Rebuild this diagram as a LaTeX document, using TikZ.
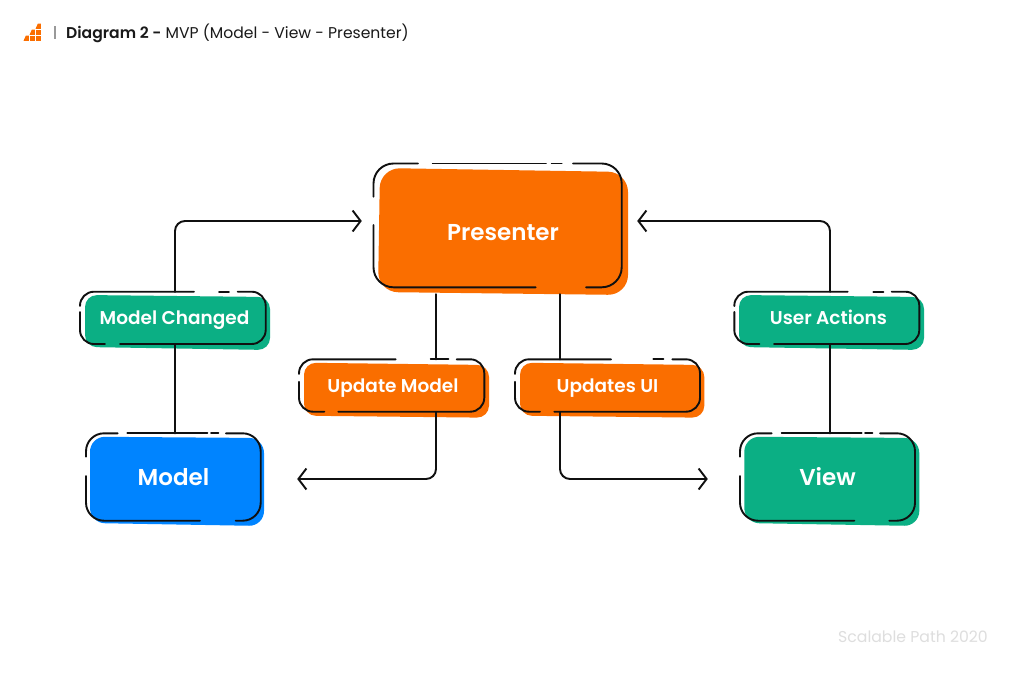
\documentclass[tikz,border=0pt]{standalone}
\usepackage{fontspec}
\usetikzlibrary{arrows.meta}
\setmainfont{Poppins}
\newfontfamily\semibold{Poppins}[UprightFont=* SemiBold]
\definecolor{brandorange}{HTML}{FA6E00}
\definecolor{brandgreen}{HTML}{0BAF84}
\definecolor{brandblue}{HTML}{0084FF}
\definecolor{inkline}{HTML}{101010}
\tikzset{
  sketch/.style={draw=inkline,line width=1.9pt,line cap=round,rounded corners=#1},
  sketch/.default=14pt,
  wire/.style={draw=inkline,line width=1.9pt,line cap=round,rounded corners=10pt},
  arrowwire/.style={wire,-{Straight Barb[length=8pt,width=21pt,line width=1.9pt]}},
  bigtext/.style={text=white,font=\semibold\fontsize{23}{26}\selectfont,inner sep=0pt,text height=16pt,text depth=0pt},
  smalltext/.style={text=white,font=\semibold\fontsize{18.5}{21}\selectfont,inner sep=0pt,text height=13pt,text depth=0pt},
  logoblock/.style={fill=brandorange}
}
\begin{document}
\begin{tikzpicture}[x=1pt,y=-1pt]
\useasboundingbox (0,0) rectangle (1024,686);
\fill[white] (0,0) rectangle (1024,686);

% header: stepped logo, separator, title and credit
\foreach \x/\y in {29.5/35.5,35.5/35.5,35.5/29.5}
  \fill[logoblock] (\x,\y) rectangle ++(5.4,5.4);
\foreach \x/\y in {23.5/35.5,29.5/29.5,35.5/23.5}
  \fill[logoblock] (\x,\y+5.4) -- (\x+5.4,\y+5.4) -- (\x+5.4,\y) -- (\x+2.4,\y) -- cycle;
\draw[gray!80,line width=1.1pt] (55,26) -- (55,39);
\node[anchor=base west,inner sep=0pt,font=\fontsize{15.6}{20}\selectfont,text=black!90] (title) at (66,38.5)
  {{\semibold Diagram 2 -} MVP (Model - View - Presenter)};
\node[anchor=base east,inner sep=0pt,font=\fontsize{15.7}{18}\selectfont,text=black!13] (credit) at (988,642) {Scalable Path 2020};

% colour patches behind the outlines
\fill[brandorange,rounded corners=20pt] (380,168) -- (628,172) -- (628,295) -- (378,292) -- cycle;
\fill[brandgreen,rounded corners=12pt] (85,295) -- (270,297) -- (270,350) -- (85,347) -- cycle;
\fill[brandblue,rounded corners=15pt] (90,436.7) -- (264,438) -- (264,526) -- (90,523) -- cycle;
\fill[brandorange,rounded corners=12pt] (304,362.7) -- (489,365) -- (489,417.7) -- (304,415.7) -- cycle;
\fill[brandorange,rounded corners=12pt] (520,362.7) -- (704.3,365) -- (704.3,417.7) -- (520,415.7) -- cycle;
\fill[brandgreen,rounded corners=12pt] (739,295) -- (924,297) -- (924,350) -- (739,347) -- cycle;
\fill[brandgreen,rounded corners=15pt] (744.3,436.7) -- (919.3,438) -- (919.3,526) -- (744.3,523) -- cycle;

% labels
\node[bigtext,minimum width=242pt,minimum height=124pt] (presenter) at (503,232) {Presenter};
\node[smalltext,minimum width=184pt,minimum height=52pt] (changed) at (174.5,318) {Model Changed};
\node[bigtext,minimum width=174pt,minimum height=87pt] (model) at (173.5,477) {Model};
\node[smalltext,minimum width=185pt,minimum height=52pt] (updmodel) at (393,385.5) {Update Model};
\node[smalltext,minimum width=185pt,minimum height=52pt] (updui) at (607.5,385.5) {Updates UI};
\node[smalltext,minimum width=185pt,minimum height=52pt] (actions) at (828.5,318) {User Actions};
\node[bigtext,minimum width=175pt,minimum height=87pt] (view) at (827.5,477) {View};

% connectors
\draw[wire] ([xshift=1.5pt]model.north) -- ([xshift=0.5pt]changed.south);
\draw[arrowwire] ([xshift=0.5pt]changed.north) |- ([xshift=-20pt,yshift=11pt]presenter.west);
\draw[wire] ([xshift=-67pt]presenter.south) -- ([xshift=43pt]updmodel.north);
\draw[arrowwire] ([xshift=43pt]updmodel.south) |- ([xshift=36.5pt,yshift=-2pt]model.east);
\draw[wire] ([xshift=57pt]presenter.south) -- ([xshift=-47.5pt]updui.north);
\draw[arrowwire] ([xshift=-47.5pt]updui.south) |- ([xshift=-32pt,yshift=-2pt]view.west);
\draw[wire] ([xshift=1.5pt]actions.south) -- ([xshift=2.5pt]view.north);
\draw[arrowwire] ([xshift=1.5pt]actions.north) |- ([xshift=13pt,yshift=11pt]presenter.east);

% hand-drawn outlines: each box is a set of strokes with small breaks
% presenter
\draw[sketch=20pt] (373.5,196.7) -- (373.5,163.5) -- (418,163.5);
\draw[sketch] (432.7,163.5) -- (546,163.5);
\draw[sketch] (551.7,163.5) -- (561.7,163.5);
\draw[sketch=20pt] (573,163.5) -- (621.7,163.5) -- (621.7,287.3) -- (586,287.3);
\draw[sketch=20pt] (535.7,287.3) -- (373.5,287.3) -- (373.5,225);
% model changed
\draw[sketch] (80,306) -- (80,291.7) -- (194,291.7);
\draw[sketch] (219,291.7) -- (229,291.7);
\draw[sketch] (237.7,291.7) -- (265.7,291.7) -- (265.7,344) -- (120,344);
\draw[sketch] (105,344) -- (80,344) -- (80,312);
% model
\draw[sketch=18pt] (86,456.7) -- (86,433.3) -- (117.7,433.3);
\draw[sketch] (127.3,433.3) -- (207.3,433.3);
\draw[sketch] (211,433.3) -- (218.3,433.3);
\draw[sketch=18pt] (226,433.3) -- (260.7,433.3) -- (260.7,520.7) -- (235.7,520.7);
\draw[sketch=18pt] (200,520.7) -- (86,520.7) -- (86,476);
% update model
\draw[sketch] (299,374) -- (299,359.3) -- (395.7,359.3);
\draw[sketch] (430.7,359.3) -- (448.3,359.3);
\draw[sketch] (456.7,359.3) -- (484.3,359.3) -- (484.3,411.7) -- (338.3,411.7);
\draw[sketch] (324.3,411.7) -- (299,411.7) -- (299,381.7);
% updates ui
\draw[sketch] (515,374) -- (515,359.3) -- (611,359.3);
\draw[sketch] (653.3,359.3) -- (663.3,359.3);
\draw[sketch] (672.3,359.3) -- (700,359.3) -- (700,411.7) -- (554.3,411.7);
\draw[sketch] (540,411.7) -- (515,411.7) -- (515,381.7);
% user actions
\draw[sketch] (734.3,306) -- (734.3,291.7) -- (847.7,291.7);
\draw[sketch] (873.3,291.7) -- (883.3,291.7);
\draw[sketch] (891.7,291.7) -- (919.3,291.7) -- (919.3,344) -- (774,344);
\draw[sketch] (759.3,344) -- (734.3,344) -- (734.3,312);
% view
\draw[sketch=18pt] (740,456.7) -- (740,433.3) -- (771.7,433.3);
\draw[sketch] (781.7,433.3) -- (861.7,433.3);
\draw[sketch] (865,433.3) -- (872.3,433.3);
\draw[sketch=18pt] (880,433.3) -- (915,433.3) -- (915,520.7) -- (889.3,520.7);
\draw[sketch=18pt] (854.3,520.7) -- (740,520.7) -- (740,476);
\end{tikzpicture}
\end{document}
